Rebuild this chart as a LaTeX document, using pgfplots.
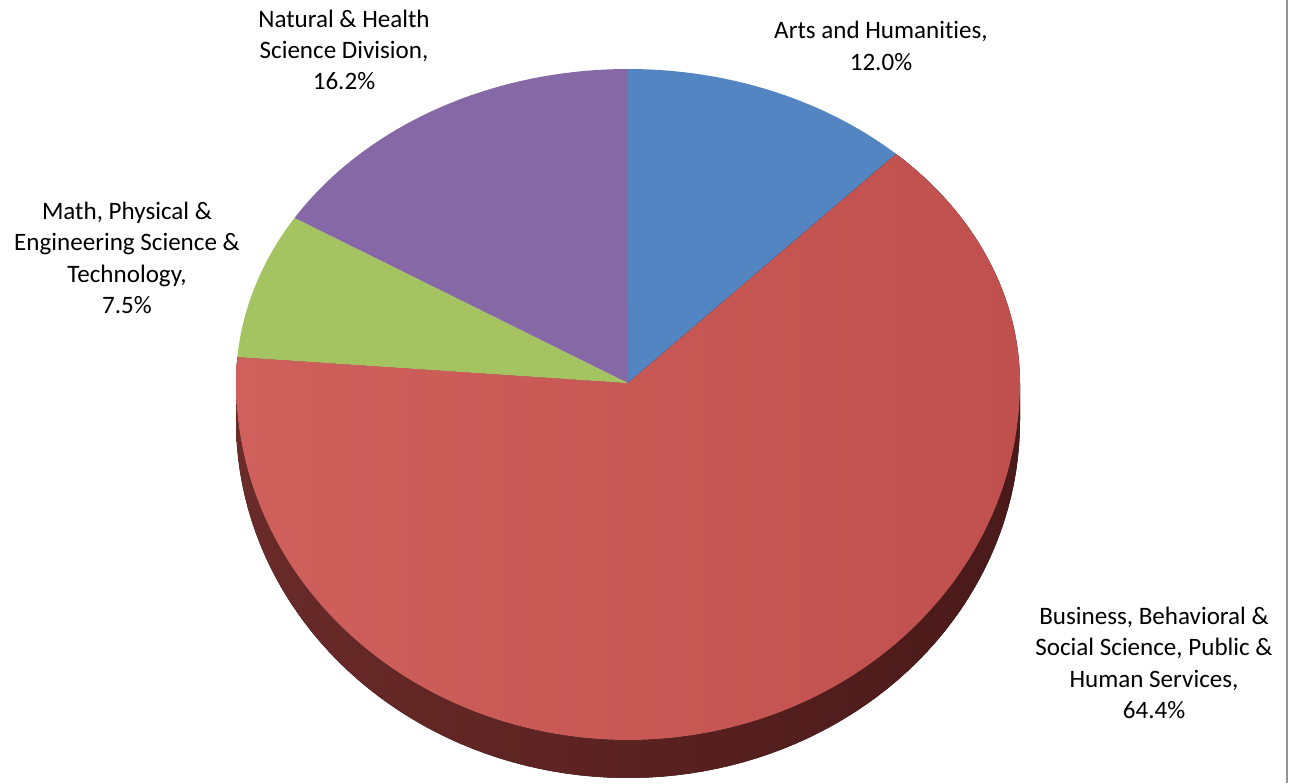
\documentclass[border=0pt]{standalone}
\usepackage{pgfplots}
\usepackage{pgfplotstable}
\pgfplotsset{compat=1.18}
\usepackage{fontspec}
\setmainfont{Carlito}[Ligatures={NoCommon}]
\definecolor{cArts}{HTML}{5285C1}
\definecolor{cBusL}{HTML}{CF605C}
\definecolor{cBusR}{HTML}{C0504D}
\definecolor{cMath}{HTML}{A4C462}
\definecolor{cNat}{HTML}{8668A6}
\definecolor{sideL}{HTML}{6A2B29}
\definecolor{sideM}{HTML}{521E1E}
\definecolor{sideR}{HTML}{4A1919}
\pgfplotstableread{
label value
Arts 12.0
Business 64.4
Math 7.5
Natural 16.2
}\piedata
\begin{document}%
\begin{tikzpicture}
\pgfplotstablegetelem{0}{value}\of\piedata\let\vA\pgfplotsretval
\pgfplotstablegetelem{1}{value}\of\piedata\let\vB\pgfplotsretval
\pgfplotstablegetelem{2}{value}\of\piedata\let\vC\pgfplotsretval
\pgfplotstablegetelem{3}{value}\of\piedata\let\vD\pgfplotsretval
\pgfmathsetmacro{\tot}{\vA+\vB+\vC+\vD}
\pgfmathsetmacro{\aA}{90}
\pgfmathsetmacro{\aB}{90-(\vA/\tot)*360}
\pgfmathsetmacro{\aC}{\aB-(\vB/\tot)*360}
\pgfmathsetmacro{\aD}{\aC-(\vC/\tot)*360}
\pgfmathsetmacro{\aE}{\aD-(\vD/\tot)*360}
\begin{axis}[
  width=968.25pt, height=587.25pt, scale only axis,
  xmin=0, xmax=1291, ymin=0, ymax=783,
  hide axis, clip=false,
]
\coordinate (SW) at (0,0);
\coordinate (NE) at (1291,783);
% side of the pie (visible front part)
\fill[left color=sideL, middle color=sideM, right color=sideR]
  plot[domain=-180:0, samples=90, variable=\t] ({628+392*cos(\t)},{400+357*sin(\t)-38})
  -- plot[domain=0:-180, samples=90, variable=\t] ({628+392*cos(\t)},{400+357*sin(\t)}) -- cycle;
% slices
\fill[cArts] (628,400) -- plot[domain=\aB:\aA, samples=40, variable=\t]
  ({628+392*cos(\t)},{400+((sin(\t)>0)?314:357)*sin(\t)}) -- cycle;
\fill[left color=cBusL, right color=cBusR] (628,400) -- plot[domain=\aC:\aB, samples=150, variable=\t]
  ({628+392*cos(\t)},{400+((sin(\t)>0)?314:357)*sin(\t)}) -- cycle;
\fill[cMath] (628,400) -- plot[domain=\aD:\aC, samples=30, variable=\t]
  ({628+392*cos(\t)},{400+((sin(\t)>0)?314:357)*sin(\t)}) -- cycle;
\fill[cNat] (628,400) -- plot[domain=\aE:\aD, samples=50, variable=\t]
  ({628+392*cos(\t)},{400+((sin(\t)>0)?314:357)*sin(\t)}) -- cycle;
% labels
\tikzset{lab/.style={align=center, font=\fontsize{18.8}{23.5}\selectfont, text=black}}
\node[lab] at (344,733) {Natural \& Health\\Science Division,\\16.2\%};
\node[lab] at (881,737) {Arts and Humanities,\\12.0\%};
\node[lab] at (127,525) {Math, Physical \&\\Engineering Science \&\\Technology,\\7.5\%};
\node[lab] at (1154,120) {Business, Behavioral \&\\Social Science, Public \&\\Human Services,\\64.4\%};
% frame line at right
\draw[color=black!42, line width=1.5pt] (1287,0) -- (1287,783);
\end{axis}
\pgfresetboundingbox
\path (SW) rectangle (NE);
\end{tikzpicture}%
\end{document}
